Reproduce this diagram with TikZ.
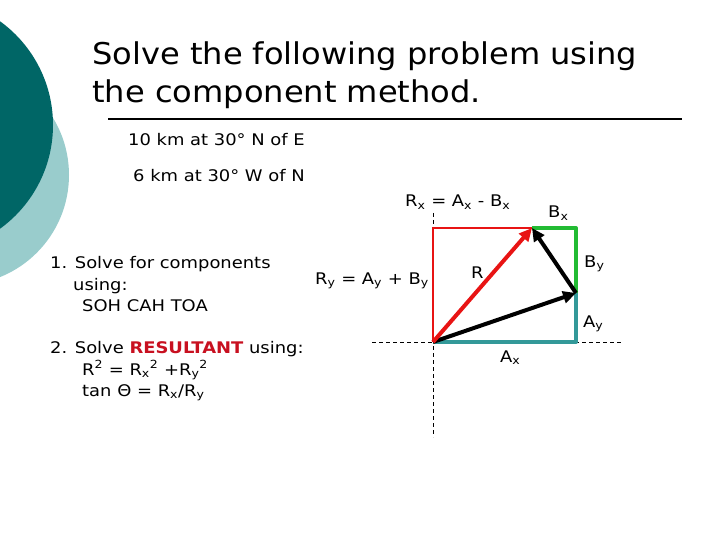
\documentclass[tikz,border=0pt]{standalone}
\usepackage{fontspec}
\setmainfont{DejaVu Sans}
\newfontfamily\headfont[FakeStretch=1.07]{DejaVu Sans}
\newfontfamily\bodyfont[FakeStretch=1.12]{DejaVu Sans}
\usetikzlibrary{calc,arrows.meta}
\definecolor{darkteal}{RGB}{0,102,102}
\definecolor{lightteal}{RGB}{153,204,204}
\definecolor{compteal}{RGB}{51,153,153}
\definecolor{compgreen}{RGB}{34,187,51}
\definecolor{vecred}{RGB}{232,20,20}
\definecolor{wordred}{RGB}{200,16,32}

\begin{document}
\begin{tikzpicture}[x=1pt,y=-1pt,
  txt/.style={anchor=base west,inner sep=0pt,font=\bodyfont\fontsize{16}{19}\selectfont},
  head/.style={anchor=base west,inner sep=0pt,font=\headfont\fontsize{30}{38}\selectfont},
  vec/.style={line width=4pt,-{Triangle[length=13pt,width=12pt]}},
  comp/.style={line width=4pt,line join=round},
  axis/.style={line width=0.8pt,dash pattern=on 4pt off 3pt}]
\useasboundingbox (0,0) rectangle (720,540);
\fill[lightteal] (-41,175) circle (110);
\fill[darkteal] (-75,125) circle (128);

\node[head] (title1) at (92,65) {Solve the following problem using};
\node[head] (title2) at (92,103) {the component method.};
\draw[line width=1.5pt] (108,119) -- (682,119);

\node[txt] (vecA) at (128,146) {10 km at 30° N of E};
\node[txt] (vecB) at (133,182) {6 km at 30° W of N};

\node[txt] (step1) at (50,268) {1. Solve for components};
\node[txt] (step1b) at (73,290) {using:};
\node[txt] (step1c) at (82,311) {SOH CAH TOA};
\node[txt] (step2) at (50,353) {2. Solve \textcolor{wordred}{\textbf{RESULTANT}} using:};
\node[txt] (step2b) at (82,375) {R\textsuperscript{2} = R\textsubscript{x}\textsuperscript{2} +R\textsubscript{y}\textsuperscript{2}};
\node[txt] (step2c) at (82,396) {tan Θ = R\textsubscript{x}/R\textsubscript{y}};

\coordinate (O) at (433,342);
\coordinate (C) at (576,342);
\coordinate (Atip) at (576,293);
\coordinate (G) at (576,228);
\coordinate (Btip) at (532,228);
\coordinate (T) at (433,228);

\draw[axis] (372,342) -- (622,342);
\draw[axis] (433,213) -- (433,437);
\draw[vecred,line width=1.2pt] (O) -- (T) -- (Btip);
\draw[comp,compteal] (O) -- (C) -- (Atip);
\draw[comp,compgreen] (Atip) -- (G) -- (Btip);
\draw[vec] (O) -- (Atip);
\draw[vec] (Atip) -- (Btip);
\draw[vec,vecred] (O) -- (Btip);

\node[txt] (rx) at (405,207) {R\textsubscript{x} = A\textsubscript{x} - B\textsubscript{x}};
\node[txt] (ry) at (315,284) {R\textsubscript{y} = A\textsubscript{y} + B\textsubscript{y}};
\node[txt] (lbx) at (548,218) {B\textsubscript{x}};
\node[txt] (lby) at (584,267) {B\textsubscript{y}};
\node[txt] (lr) at (471,278) {R};
\node[txt] (lay) at (583,327) {A\textsubscript{y}};
\node[txt] (lax) at (500,362) {A\textsubscript{x}};
\end{tikzpicture}
\end{document}
